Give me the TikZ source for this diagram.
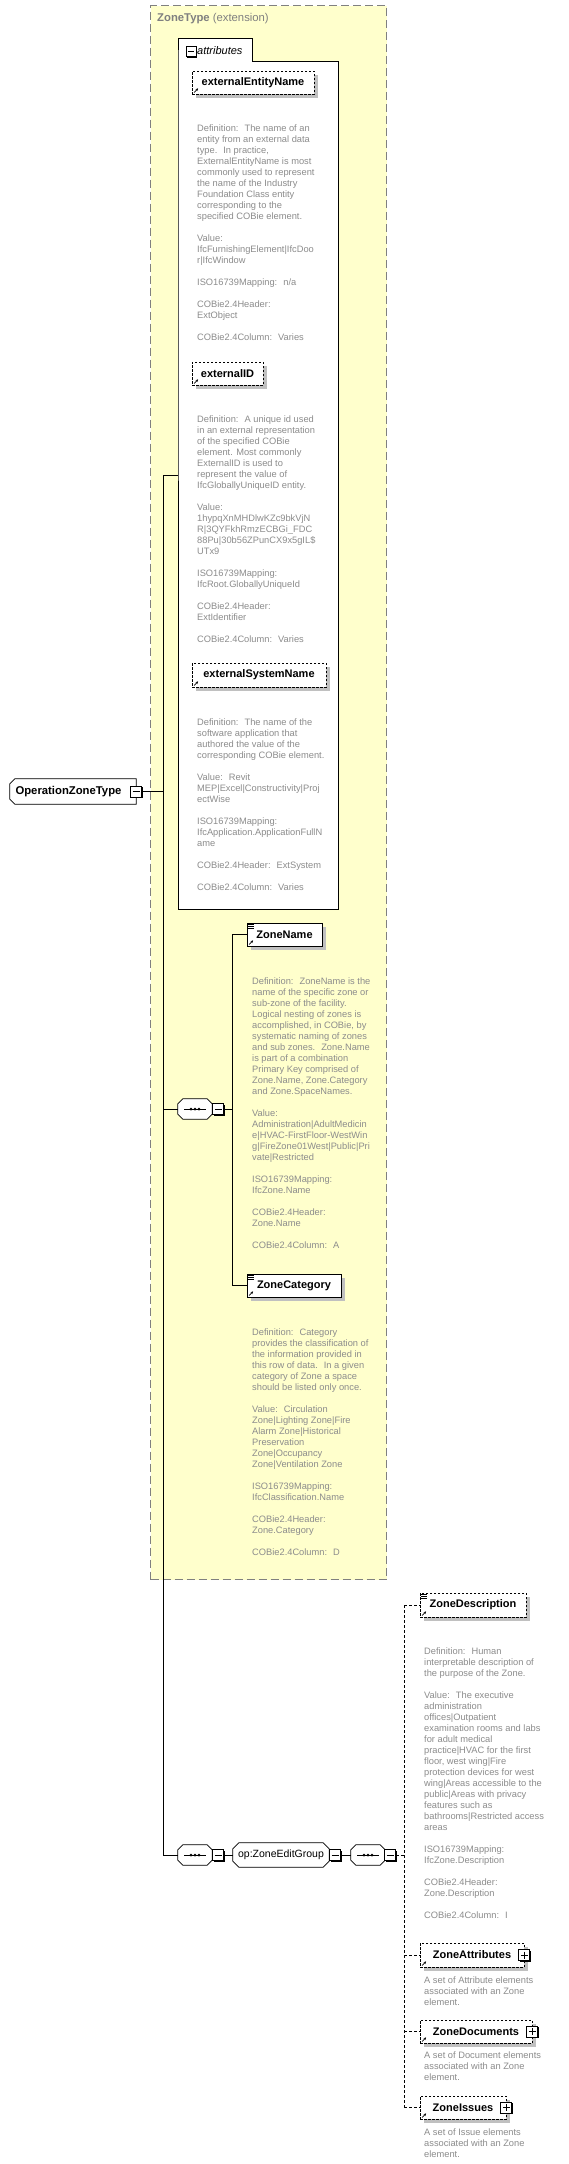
\documentclass[tikz,border=0pt]{standalone}
\usepackage{fontspec}
\setmainfont{Liberation Sans}
\usetikzlibrary{shadows,calc,arrows.meta}
\definecolor{ybg}{RGB}{255,255,204}
\definecolor{bordg}{RGB}{128,128,128}
\definecolor{txtg}{RGB}{140,140,140}
\definecolor{shad}{RGB}{192,192,192}
\tikzset{
  shd/.style={drop shadow={shadow xshift=4pt,shadow yshift=-4pt,fill=shad,opacity=1}},
  elem/.style={draw=black, fill=white, line width=0.8pt, inner sep=0pt, shd, font=\fontsize{11}{13}\selectfont\bfseries},
  optelem/.style={elem, dash pattern=on 2.5pt off 1.5pt},
  desc/.style={text=txtg, font=\fontsize{9.3}{11}\selectfont, align=left, inner sep=0pt, anchor=north west},
  conn/.style={draw=black, line width=0.9pt},
  optconn/.style={conn, dash pattern=on 3pt off 2pt},
  pmbox/.style={draw=black, fill=white, line width=0.9pt, minimum size=11pt, inner sep=0pt,
    drop shadow={shadow xshift=1pt,shadow yshift=-1pt,fill=black,opacity=1}},
  minusbox/.style={pmbox, path picture={\draw[line width=0.8pt] ($(path picture bounding box.west)+(2,0)$) -- ($(path picture bounding box.east)+(-2,0)$);}},
  plusbox/.style={pmbox, path picture={\draw[line width=0.8pt] ($(path picture bounding box.west)+(2,0)$) -- ($(path picture bounding box.east)+(-2,0)$);
      \draw[line width=0.8pt] ($(path picture bounding box.north)+(0,2)$) -- ($(path picture bounding box.south)+(0,-2)$);}},
  holder/.style={rectangle, draw=none, inner sep=0pt},
  shapeline/.style={draw=black, fill=white, line width=0.8pt},
}
\newcommand{\chpath}[3]{let \p1=(#1.north west), \p2=(#1.south east) in (\x1+#2,\y1) -- (\x2-#3,\y1) -- (\x2,\y1-#3) -- (\x2,\y2+#3) -- (\x2-#3,\y2) -- (\x1+#2,\y2) -- (\x1,\y2+#2) -- (\x1,\y1-#2) -- cycle}
\newcommand{\chshape}[3]{\fill[shad, shift={(4pt,-4pt)}] \chpath{#1}{#2}{#3};
  \path[shapeline] \chpath{#1}{#2}{#3};}
\newcommand{\dsc}[4]{\node[desc] (#1) at (#2,#3-5) {\rule{0pt}{8pt}#4};}
\newcommand{\refmark}[1]{\draw[line width=0.7pt,-{Stealth[length=2.5pt,width=2.5pt]}] ($(#1.south west)+(2.5,-2)$) -- ($(#1.south west)+(6.5,-6)$);}
\newcommand{\seqmark}[1]{\foreach \k in {1.8,3.6,5.4}{\draw[line width=0.6pt] ($(#1.north west)+(1.5,\k)$) -- ++(6,0);}}
\newcommand{\seqicon}[1]{\draw[line width=0.9pt] ($(#1.center)+(-11,0)$) -- ($(#1.center)+(11,0)$);
  \foreach \dx in {-4,0,4} \fill ($(#1.center)+(\dx,0)$) circle (1.5pt);}
\begin{document}
\begin{tikzpicture}[x=1pt,y=-1pt]
\useasboundingbox (0,0) rectangle (568,2164);
\fill[white] (0,0) rectangle (568,2164);
% ZoneType extension box
\node[draw=bordg, fill=ybg, dash pattern=on 8pt off 4pt, line width=1pt, minimum width=236pt, minimum height=1574pt, anchor=north west, inner sep=0pt] (ztbox) at (150,5) {};
\node[anchor=west, inner sep=0pt, text=bordg, font=\fontsize{11.3}{13}\selectfont] (zttitle) at (157,19) {\textbf{ZoneType} (extension)};
% attributes box
\draw[fill=white, line width=0.9pt] (178,61) -- (178,38) -- (252,38) -- (252,61) -- (338,61) -- (338,909) -- (178,909) -- cycle;
\node[minusbox, minimum size=10pt, drop shadow={shadow xshift=0.6pt,shadow yshift=-0.6pt,fill=black,opacity=1}] (attrm) at (191,51.5) {};
\node[anchor=west, inner sep=0pt, font=\fontsize{11}{13}\selectfont\itshape] (attrlbl) at (197,51) {attributes};
% attributes
\node[optelem, minimum width=122pt, minimum height=23pt] (een) at (253,82.5) {externalEntityName};
\refmark{een}
\dsc{deen}{197}{128}{Definition:~ The name of an\\
entity from an external data\\
type.~ In practice,\\
ExternalEntityName is most\\
commonly used to represent\\
the name of the Industry\\
Foundation Class entity\\
corresponding to the\\
specified COBie element.\\[11pt]
Value:\\
IfcFurnishingElement|IfcDoo\\
r|IfcWindow\\[11pt]
ISO16739Mapping:~ n/a\\[11pt]
COBie2.4Header:\\
ExtObject\\[11pt]
COBie2.4Column:~ Varies}
\node[optelem, minimum width=71pt, minimum height=23pt] (eid) at (227.5,373.5) {externalID};
\refmark{eid}
\dsc{deid}{197}{419}{Definition:~ A unique id used\\
in an external representation\\
of the specified COBie\\
element. Most commonly\\
ExternalID is used to\\
represent the value of\\
IfcGloballyUniqueID entity.\\[11pt]
Value:\\
1hypqXnMHDlwKZc9bkVjN\\
R|3QYFkhRmzECBGi\_FDC\\
88Pu|30b56ZPunCX9x5gIL\$\\
UTx9\\[11pt]
ISO16739Mapping:\\
IfcRoot.GloballyUniqueId\\[11pt]
COBie2.4Header:\\
ExtIdentifier\\[11pt]
COBie2.4Column:~ Varies}
\node[optelem, minimum width=134pt, minimum height=24pt] (esn) at (259,675) {externalSystemName};
\refmark{esn}
\dsc{desn}{197}{722}{Definition:~ The name of the\\
software application that\\
authored the value of the\\
corresponding COBie element.\\[11pt]
Value:~ Revit\\
MEP|Excel|Constructivity|Proj\\
ectWise\\[11pt]
ISO16739Mapping:\\
IfcApplication.ApplicationFullN\\
ame\\[11pt]
COBie2.4Header:~ ExtSystem\\[11pt]
COBie2.4Column:~ Varies}
% OperationZoneType
\node[holder, minimum width=126pt, minimum height=25pt] (ozt) at (73,791.5) {};
\chshape{ozt}{5pt}{0pt}
\node[inner sep=0pt, font=\fontsize{11.3}{13}\selectfont\bfseries] (ozttxt) at ($(ozt.center)+(-4.5,0)$) {OperationZoneType};
\node[minusbox] (oztm) at (136,791.5) {};
% sequence 1
\node[holder, minimum width=34pt, minimum height=20pt] (seq1) at (195,1109) {};
\chshape{seq1}{5pt}{5pt}
\seqicon{seq1}
\node[minusbox] (seq1m) at (218,1109) {};
\node[elem, minimum width=75pt, minimum height=23pt] (zn) at (284.5,934.5) {ZoneName};
\seqmark{zn}\refmark{zn}
\dsc{dzn}{252}{981}{Definition:~ ZoneName is the\\
name of the specific zone or\\
sub-zone of the facility.\\
Logical nesting of zones is\\
accomplished, in COBie, by\\
systematic naming of zones\\
and sub zones.~ Zone.Name\\
is part of a combination\\
Primary Key comprised of\\
Zone.Name, Zone.Category\\
and Zone.SpaceNames.\\[11pt]
Value:\\
Administration|AdultMedicin\\
e|HVAC-FirstFloor-WestWin\\
g|FireZone01West|Public|Pri\\
vate|Restricted\\[11pt]
ISO16739Mapping:\\
IfcZone.Name\\[11pt]
COBie2.4Header:\\
Zone.Name\\[11pt]
COBie2.4Column:~ A}
\node[elem, minimum width=94pt, minimum height=23pt] (zc) at (294,1285.5) {ZoneCategory};
\seqmark{zc}\refmark{zc}
\dsc{dzc}{252}{1332}{Definition:~ Category\\
provides the classification of\\
the information provided in\\
this row of data.~ In a given\\
category of Zone a space\\
should be listed only once.\\[11pt]
Value:~ Circulation\\
Zone|Lighting Zone|Fire\\
Alarm Zone|Historical\\
Preservation\\
Zone|Occupancy\\
Zone|Ventilation Zone\\[11pt]
ISO16739Mapping:\\
IfcClassification.Name\\[11pt]
COBie2.4Header:\\
Zone.Category\\[11pt]
COBie2.4Column:~ D}
% bottom row
\node[holder, minimum width=34pt, minimum height=20pt] (seq2) at (195,1855) {};
\chshape{seq2}{5pt}{5pt}
\seqicon{seq2}
\node[minusbox] (seq2m) at (218,1855) {};
\node[holder, minimum width=96pt, minimum height=24pt] (oeg) at (281,1855) {};
\chshape{oeg}{6pt}{6pt}
\node[inner sep=0pt, font=\fontsize{10.5}{12}\selectfont] (oegtxt) at (oeg.center) {op:ZoneEditGroup};
\node[minusbox] (oegm) at (335,1855) {};
\node[holder, minimum width=34pt, minimum height=20pt] (seq3) at (368,1855) {};
\chshape{seq3}{5pt}{5pt}
\seqicon{seq3}
\node[minusbox] (seq3m) at (390,1855) {};
% choice elements
\node[optelem, minimum width=106pt, minimum height=24pt] (zd) at (473,1605) {ZoneDescription};
\seqmark{zd}\refmark{zd}
\dsc{dzd}{424}{1651}{Definition:~ Human\\
interpretable description of\\
the purpose of the Zone.\\[11pt]
Value:~ The executive\\
administration\\
offices|Outpatient\\
examination rooms and labs\\
for adult medical\\
practice|HVAC for the first\\
floor, west wing|Fire\\
protection devices for west\\
wing|Areas accessible to the\\
public|Areas with privacy\\
features such as\\
bathrooms|Restricted access\\
areas\\[11pt]
ISO16739Mapping:\\
IfcZone.Description\\[11pt]
COBie2.4Header:\\
Zone.Description\\[11pt]
COBie2.4Column:~ I}
\node[optelem, minimum width=104pt, minimum height=24pt] (za) at (472,1955) {ZoneAttributes\hspace{5pt}};
\refmark{za}
\node[plusbox] (zap) at (za.east) {};
\dsc{dza}{424}{1980}{A set of Attribute elements\\
associated with an Zone\\
element.}
\node[optelem, minimum width=112pt, minimum height=23pt] (zdoc) at (476,2031.5) {ZoneDocuments\hspace{5pt}};
\refmark{zdoc}
\node[plusbox] (zdocp) at (zdoc.east) {};
\dsc{dzdoc}{424}{2055}{A set of Document elements\\
associated with an Zone\\
element.}
\node[optelem, minimum width=86pt, minimum height=23pt] (zi) at (463,2107.5) {ZoneIssues\hspace{5pt}};
\refmark{zi}
\node[plusbox] (zip) at (zi.east) {};
\dsc{dzi}{424}{2132}{A set of Issue elements\\
associated with an Zone\\
element.}
% connectors
\coordinate (t1) at (163,475);
\coordinate (t2) at (163,1855);
\coordinate (attrL) at (178,475);
\coordinate (j1) at (232,1109);
\coordinate (j3) at (404,1855);
\draw[conn] (t1) -- (t2);
\draw[conn] (t1) -- (attrL);
\draw[conn] (oztm.east) -- (oztm.east -| t1);
\draw[conn] (seq1.west -| t1) -- (seq1.west);
\draw[conn] (t2) -- (seq2.west);
\draw[conn] (seq1m.east) -- (j1);
\draw[conn] (j1) |- (zn.west);
\draw[conn] (j1) |- (zc.west);
\draw[conn] (seq2m.east) -- (oeg.west);
\draw[conn] (oegm.east) -- (seq3.west);
\draw[optconn] (seq3m.east) -- (j3);
\draw[optconn] (zd.west -| j3) -- (zi.west -| j3);
\draw[optconn] (zd.west -| j3) -- (zd.west);
\draw[optconn] (za.west -| j3) -- (za.west);
\draw[optconn] (zdoc.west -| j3) -- (zdoc.west);
\draw[optconn] (zi.west -| j3) -- (zi.west);
\end{tikzpicture}
\end{document}
